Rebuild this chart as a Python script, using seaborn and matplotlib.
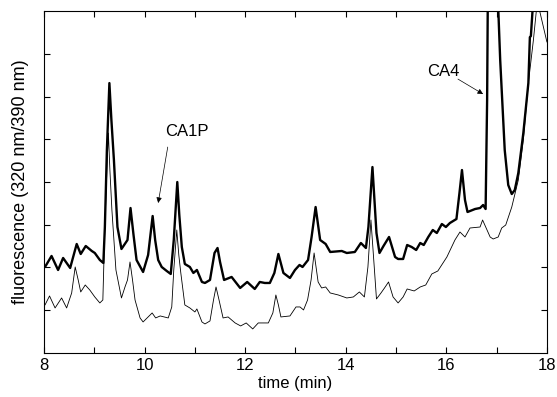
import numpy as np
import pandas as pd
import matplotlib
matplotlib.use("Agg")
import matplotlib.pyplot as plt
from matplotlib.ticker import MultipleLocator
import seaborn as sns

# thick trace (sample), time in min, signal in arbitrary units
thick_time = [8.02, 8.15, 8.28, 8.38, 8.52, 8.65, 8.73, 8.83, 8.95, 9.01,
              9.11, 9.18, 9.21, 9.25, 9.30, 9.34, 9.39, 9.46, 9.54, 9.66,
              9.72, 9.78, 9.84, 9.97, 10.07, 10.16, 10.21, 10.27, 10.34, 10.44,
              10.52, 10.58, 10.65, 10.69, 10.74, 10.80, 10.90, 10.97, 11.04, 11.14,
              11.20, 11.30, 11.39, 11.45, 11.50, 11.58, 11.73, 11.90, 12.04, 12.19,
              12.29, 12.39, 12.49, 12.58, 12.66, 12.76, 12.89, 12.99, 13.08, 13.14,
              13.25, 13.32, 13.40, 13.49, 13.60, 13.69, 13.92, 14.02, 14.18, 14.30,
              14.40, 14.45, 14.53, 14.61, 14.67, 14.75, 14.86, 14.98, 15.04, 15.14,
              15.22, 15.31, 15.40, 15.48, 15.55, 15.64, 15.73, 15.81, 15.91, 15.99,
              16.07, 16.20, 16.26, 16.31, 16.37, 16.42, 16.57, 16.67, 16.73, 16.78,
              16.81, 16.83, 16.91, 17.01, 17.07, 17.11, 17.16, 17.23, 17.30, 17.36,
              17.43, 17.53, 17.63, 17.66, 17.68, 17.72, 17.78, 18.00]
thick_signal = [86, 97, 83, 95, 85, 109, 99, 107, 102, 100,
                93, 90, 126, 203, 270, 233, 193, 126, 104, 113,
                145, 118, 93, 81, 98, 137, 113, 93, 86, 82,
                79, 113, 171, 138, 106, 89, 86, 80, 83, 71,
                70, 73, 100, 105, 91, 73, 76, 65, 71, 64,
                71, 70, 70, 80, 99, 80, 75, 83, 88, 86,
                93, 116, 146, 113, 109, 101, 102, 100, 101, 110,
                105, 126, 186, 120, 100, 107, 116, 96, 94, 94,
                108, 106, 103, 110, 108, 116, 123, 120, 129, 126,
                130, 134, 160, 183, 153, 141, 144, 145, 148, 144,
                253, 403, 700, 373, 293, 253, 203, 168, 159, 163,
                180, 220, 270, 316, 317, 348, 393, 500]

# thin trace (blank)
thin_time = [8.02, 8.11, 8.22, 8.35, 8.45, 8.55, 8.62, 8.68, 8.73, 8.82,
             8.91, 9.01, 9.11, 9.17, 9.21, 9.25, 9.28, 9.31, 9.35, 9.43,
             9.54, 9.61, 9.66, 9.71, 9.76, 9.81, 9.91, 9.97, 10.07, 10.15,
             10.22, 10.31, 10.47, 10.54, 10.58, 10.64, 10.68, 10.72, 10.80, 10.90,
             11.00, 11.04, 11.14, 11.20, 11.30, 11.37, 11.42, 11.48, 11.56, 11.66,
             11.80, 11.91, 12.02, 12.15, 12.26, 12.46, 12.55, 12.61, 12.66, 12.71,
             12.89, 13.01, 13.09, 13.16, 13.24, 13.31, 13.37, 13.45, 13.52, 13.60,
             13.69, 13.85, 14.02, 14.15, 14.27, 14.37, 14.44, 14.50, 14.57, 14.61,
             14.70, 14.77, 14.85, 14.94, 15.04, 15.14, 15.22, 15.36, 15.48, 15.59,
             15.71, 15.83, 16.01, 16.17, 16.27, 16.37, 16.47, 16.67, 16.72, 16.87,
             16.93, 17.03, 17.10, 17.18, 17.30, 17.43, 17.53, 17.63, 17.73, 17.79,
             17.83, 17.86, 17.99, 18.00]
thin_signal = [48, 57, 45, 55, 45, 60, 86, 73, 61, 68,
               63, 56, 50, 53, 126, 183, 220, 183, 143, 83,
               55, 66, 73, 91, 73, 53, 35, 31, 36, 40,
               35, 37, 35, 46, 83, 123, 98, 80, 48, 45,
               41, 44, 31, 29, 32, 53, 66, 53, 35, 36,
               30, 27, 30, 24, 30, 30, 40, 58, 48, 36,
               37, 46, 46, 43, 53, 73, 100, 71, 65, 66,
               60, 58, 55, 56, 61, 56, 86, 133, 83, 54,
               60, 65, 71, 56, 50, 56, 64, 62, 66, 68,
               79, 82, 96, 113, 121, 116, 125, 126, 133, 116,
               114, 116, 125, 128, 146, 173, 213, 270, 313, 343,
               373, 341, 313, 311]

x_ticks = [8, 10, 12, 14, 16, 18]

sns.set_style("ticks")
plt.rcParams['font.family'] = ['Liberation Sans', 'DejaVu Sans']
plt.rcParams['axes.linewidth'] = 0.8
plt.rcParams['text.color'] = 'black'
plt.rcParams['axes.labelcolor'] = 'black'

fig = plt.figure(figsize=(5.57, 3.97), dpi=100)
ax = fig.add_axes([0.079, 0.111, 0.903, 0.861])

sns.lineplot(x=thin_time, y=thin_signal, ax=ax, color='black',
             linewidth=0.6, sort=False, solid_joinstyle='round')
sns.lineplot(x=thick_time, y=thick_signal, ax=ax, color='black',
             linewidth=1.7, sort=False, solid_joinstyle='round')

ax.set_xlim(8, 18)
ax.set_ylim(0, 342)
ax.set_xticks(x_ticks)
ax.set_xticklabels([str(t) for t in x_ticks])
ax.xaxis.set_minor_locator(MultipleLocator(1))
ax.set_yticks([42.75 * k for k in range(1, 8)])
ax.set_yticklabels([])
ax.tick_params(axis='both', which='both', direction='in', top=True, right=True,
               length=4, width=0.8, labelsize=12, colors='black')
for s in ax.spines.values():
    s.set_visible(True)
    s.set_color('black')

ax.set_xlabel('time (min)', fontsize=12, labelpad=2)
ax.set_ylabel('fluorescence (320 nm/390 nm)', fontsize=13, labelpad=7)

# peak labels and their arrows
arrow_kw = dict(arrowstyle='-|>', color='black', lw=0.5,
                mutation_scale=8, shrinkA=0, shrinkB=0)
ax.text(10.84, 222, 'CA1P', ha='center', va='center', fontsize=12)
ax.annotate('', xy=(10.27, 150), xytext=(10.46, 206), arrowprops=arrow_kw)
ax.text(15.93, 282, 'CA4', ha='center', va='center', fontsize=12)
ax.annotate('', xy=(16.73, 259), xytext=(16.23, 274), arrowprops=arrow_kw)

fig.savefig('out.png', dpi=100)
